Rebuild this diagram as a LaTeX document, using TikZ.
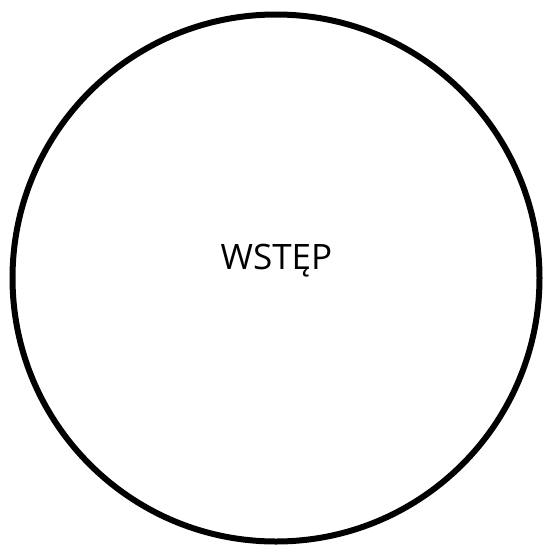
\documentclass[tikz,border=0pt]{standalone}
\usepackage{fontspec}
\setmainfont{Open Sans}
\begin{document}
\begin{tikzpicture}[x=1pt,y=-1pt,
  ring/.style={circle, draw=black, line width=6pt, minimum size=527pt, inner sep=0pt},
  label/.style={font=\fontsize{35}{42}\selectfont, inner sep=0pt}]
\useasboundingbox (0,0) rectangle (543,547);
\node[ring] (c) at (276,278) {};
\node[label, anchor=base] (t) at (276.5,269) {WSTĘP};
\end{tikzpicture}
\end{document}
